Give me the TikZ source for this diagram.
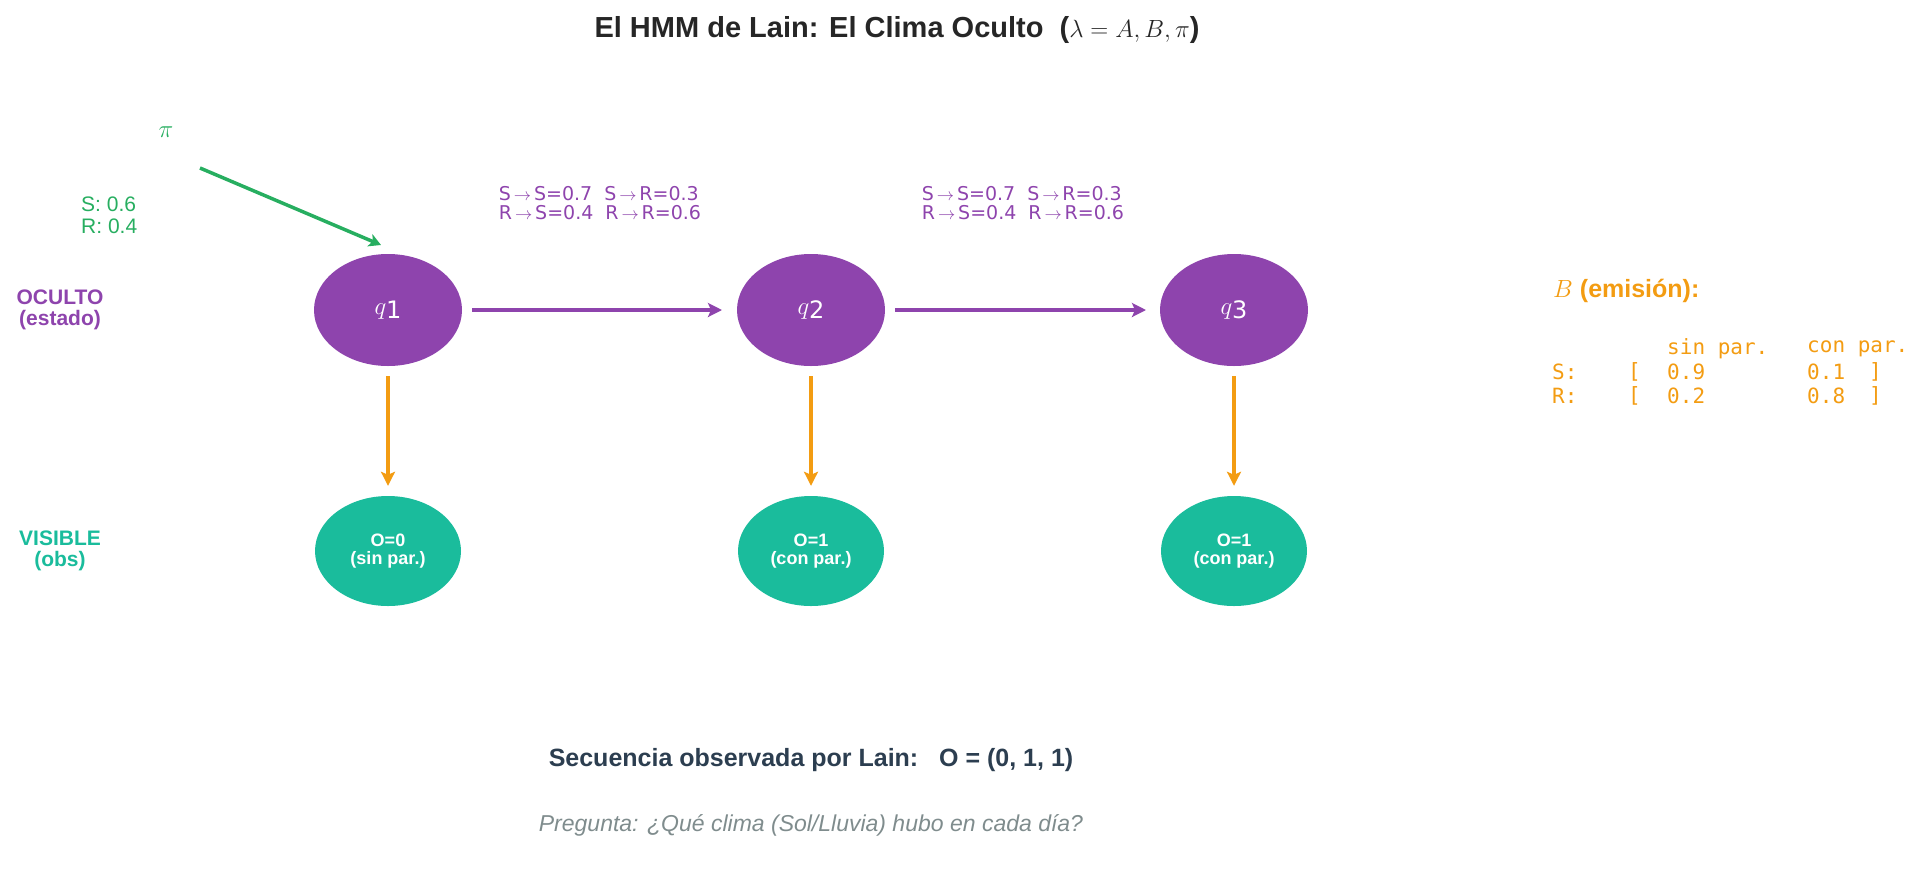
\documentclass[tikz,border=0pt]{standalone}
\usepackage{fontspec}
\setmainfont{Liberation Sans}
\newfontfamily\djfont{DejaVu Sans}
\setmonofont{DejaVu Sans Mono}
\usetikzlibrary{arrows.meta,shapes.geometric}
\definecolor{pur}{HTML}{8E44AD}
\definecolor{tea}{HTML}{1ABC9C}
\definecolor{ora}{HTML}{F39C12}
\definecolor{gre}{HTML}{27AE60}
\definecolor{dar}{HTML}{2C3E50}
\definecolor{gry}{HTML}{7F8C8D}
\begin{document}
\begin{tikzpicture}[x=1pt,y=-1pt,
 hid/.style={ellipse,fill=pur,minimum width=148pt,minimum height=112pt,inner sep=0,text=white,font=\djfont\fontsize{31}{31}\selectfont},
 obs/.style={ellipse,fill=tea,minimum width=146pt,minimum height=110pt,inner sep=0,text=white,align=center,font=\bfseries\fontsize{18}{18}\selectfont},
 arr/.style={line width=4pt,-{Stealth[length=14pt,width=14pt,inset=3pt]}},
 tl/.style={text=pur,align=left,font=\djfont\fontsize{19}{19}\selectfont,inner sep=0},
 mono/.style={text=ora,anchor=west,inner sep=0,font=\ttfamily\fontsize{21}{21}\selectfont}]
\useasboundingbox (0,0) rectangle (1925,887);
\node[text=black!85,font=\bfseries\fontsize{29}{29}\selectfont] (title) at (897,30) {El HMM de Lain: El Clima Oculto\ \ ($\lambda = A, B, \pi$)};
\node[hid] (q1) at (388,310) {$q$\raisebox{-4pt}{\fontsize{24}{24}\selectfont 1}};
\node[hid] (q2) at (811,310) {$q$\raisebox{-4pt}{\fontsize{24}{24}\selectfont 2}};
\node[hid] (q3) at (1234,310) {$q$\raisebox{-4pt}{\fontsize{24}{24}\selectfont 3}};
\node[obs] (o1) at (388,551) {O=0\\(sin par.)};
\node[obs] (o2) at (811,551) {O=1\\(con par.)};
\node[obs] (o3) at (1234,551) {O=1\\(con par.)};
\coordinate (a1) at (472,310); \coordinate (b1) at (722,310);
\coordinate (a2) at (895,310); \coordinate (b2) at (1146,310);
\draw[arr,pur] (a1) -- (b1);
\draw[arr,pur] (a2) -- (b2);
\foreach \i in {1,2,3}{\draw[arr,ora] ([yshift=-10pt]q\i.south) -- ([yshift=10pt]o\i.north);}
\node[text=gre,font=\itshape\fontsize{34}{34}\selectfont] (pi) at (166,132) {$\pi$};
\coordinate (ps) at (200,168); \coordinate (pe) at (381,245);
\draw[gre,line width=3.5pt,-{Stealth[length=12pt,width=13pt,inset=3pt]}] (ps) -- (pe);
\node[text=gre,align=left,anchor=west,inner sep=0,font=\fontsize{21}{22}\selectfont] (pv) at (81,215) {S: 0.6\\R: 0.4};
\node[tl] (t1) at (600,203) {S$\,\to\,$S=0.7\ \ S$\,\to\,$R=0.3\\R$\,\to\,$S=0.4\ \ R$\,\to\,$R=0.6};
\node[tl] (t2) at (1023,203) {S$\,\to\,$S=0.7\ \ S$\,\to\,$R=0.3\\R$\,\to\,$S=0.4\ \ R$\,\to\,$R=0.6};
\node[text=pur,align=center,font=\bfseries\fontsize{21}{21}\selectfont] (hl) at (60,310) {OCULTO\\(estado)};
\node[text=tea,align=center,font=\bfseries\fontsize{21}{21}\selectfont] (vl) at (60,551) {VISIBLE\\(obs)};
\node[text=ora,anchor=west,inner sep=0,font=\bfseries\fontsize{25}{25}\selectfont] (bt) at (1553,291) {$B$ (emisión):};
\node[mono] (h1) at (1667,349) {sin par.};
\node[mono] (h2) at (1807,349) {con par.};
\node[mono] (rs) at (1552,372) {S:};
\node[mono] (rs1) at (1628,372) {[};
\node[mono] (rs2) at (1667,372) {0.9};
\node[mono] (rs3) at (1807,372) {0.1};
\node[mono] (rs4) at (1869,372) {]};
\node[mono] (rr) at (1552,396) {R:};
\node[mono] (rr1) at (1628,396) {[};
\node[mono] (rr2) at (1667,396) {0.2};
\node[mono] (rr3) at (1807,396) {0.8};
\node[mono] (rr4) at (1869,396) {]};
\node[text=dar,font=\bfseries\fontsize{25}{25}\selectfont] (seq) at (811,760) {Secuencia observada por Lain:\ \ \ O = (0, 1, 1)};
\node[text=gry,font=\itshape\fontsize{23}{23}\selectfont] (q) at (811,825) {Pregunta: ¿Qué clima (Sol/Lluvia) hubo en cada día?};
\end{tikzpicture}
\end{document}
